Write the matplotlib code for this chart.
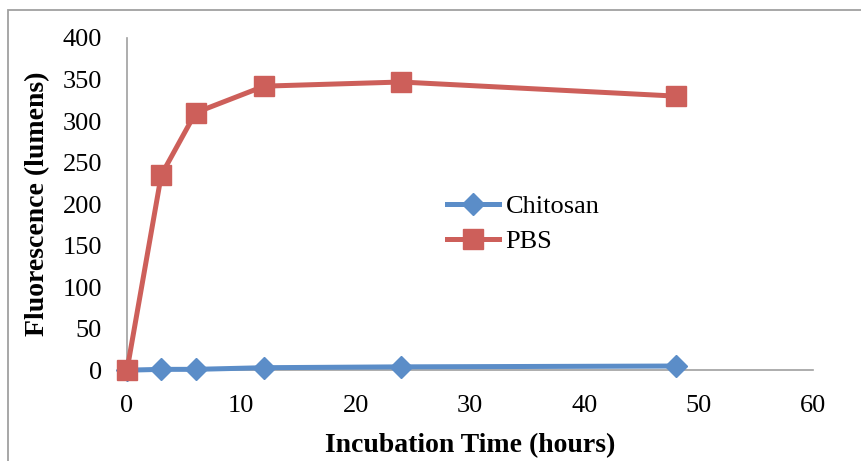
import matplotlib
matplotlib.use("Agg")
import matplotlib.pyplot as plt
from matplotlib.patches import Rectangle

hours = [0, 3, 6, 12, 24, 48]
chitosan = [0, 1, 1, 3, 4, 5]
pbs = [0, 235, 310, 342, 347, 330]
x_ticks = [0, 10, 20, 30, 40, 50, 60]
y_ticks = [0, 50, 100, 150, 200, 250, 300, 350, 400]

plt.rcParams['font.family'] = ['Liberation Serif', 'DejaVu Serif']

fig = plt.figure(figsize=(8.61, 4.61), dpi=100)
ax = fig.add_axes([0.1475, 0.197, 0.7965, 0.7206])

blue = '#5B8DC8'
red = '#CD5F5A'
ax.plot(hours, chitosan, color=blue, lw=3.6, marker='D', ms=11, mec=blue, mfc=blue,
        label='Chitosan', zorder=3, clip_on=False)
ax.plot(hours, pbs, color=red, lw=3.6, marker='s', ms=14, mec=red, mfc=red,
        label='PBS', zorder=4, clip_on=False)

ax.set_xlim(0, 60)
ax.set_ylim(0, 400)
ax.set_xticks(x_ticks)
ax.set_yticks(y_ticks)
ax.tick_params(length=0, labelsize=19)
ax.tick_params(axis='x', pad=18)
ax.tick_params(axis='y', pad=18)
for s in ['top', 'right']:
    ax.spines[s].set_visible(False)
for s in ['left', 'bottom']:
    ax.spines[s].set_color('#A0A0A0')
    ax.spines[s].set_linewidth(1.2)
    ax.spines[s].set_zorder(1)

ax.set_xlabel('Incubation Time (hours)', fontsize=20, fontweight='bold')
ax.set_ylabel('Fluorescence (lumens)', fontsize=20, fontweight='bold')
ax.xaxis.set_label_coords(0.5, -0.19)
ax.yaxis.set_label_coords(-0.112, 0.5)

leg = ax.legend(loc='center left', bbox_to_anchor=(0.466, 0.44), frameon=False, fontsize=19,
                handlelength=2.0, handletextpad=0.23, labelspacing=0.44, borderaxespad=0,
                borderpad=0)

fig.patches.append(Rectangle((8/861, -0.1), 1.0, 1 - 10/461 + 0.1, transform=fig.transFigure,
                             fill=False, edgecolor='#A0A0A0', lw=1.3, zorder=0))

fig.savefig('out.png', dpi=100)
